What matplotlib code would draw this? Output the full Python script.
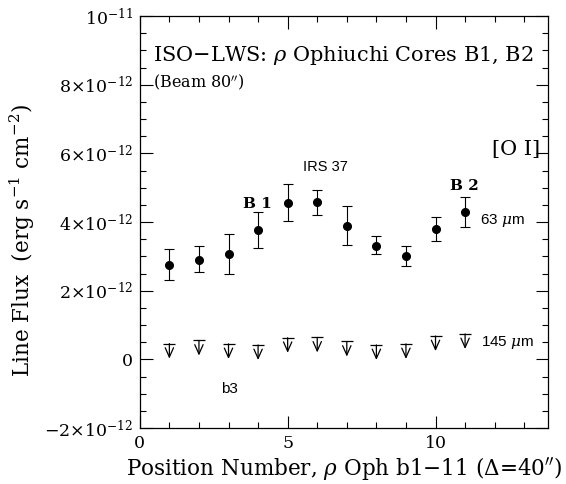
import numpy as np
import matplotlib
matplotlib.use('Agg')
import matplotlib.pyplot as plt
from matplotlib.ticker import MultipleLocator, FixedLocator

# [O I] 63 micron detections (units of 1e-12 erg s-1 cm-2)
pos = np.arange(1, 12)
flux63 = [2.74, 2.89, 3.06, 3.76, 4.56, 4.57, 3.88, 3.31, 3.02, 3.80, 4.28]
err63_hi = [0.46, 0.40, 0.58, 0.53, 0.54, 0.37, 0.59, 0.27, 0.28, 0.34, 0.46]
err63_lo = [0.44, 0.35, 0.56, 0.52, 0.53, 0.37, 0.56, 0.25, 0.29, 0.35, 0.43]

# [O I] 145 micron upper limits
lim145 = [0.46, 0.55, 0.45, 0.42, 0.63, 0.64, 0.52, 0.42, 0.45, 0.68, 0.74]
arrow_len = 0.44

ytick_vals = [-2, 0, 2, 4, 6, 8, 10]
ytick_labels = [r'$-2{\times}10^{-12}$', '0', r'$2{\times}10^{-12}$', r'$4{\times}10^{-12}$',
                r'$6{\times}10^{-12}$', r'$8{\times}10^{-12}$', r'$10^{-11}$']

plt.rcParams['mathtext.fontset'] = 'dejavuserif'
plt.rcParams['font.family'] = 'DejaVu Serif'

fig = plt.figure(figsize=(5.66, 4.84), dpi=100)
ax = fig.add_axes([0.247, 0.1157, 0.721, 0.8512])

ax.errorbar(pos, flux63, yerr=[err63_lo, err63_hi], fmt='o', color='black',
            ms=5.5, elinewidth=0.8, capsize=3.5, capthick=0.8)

ax.plot(pos, lim145, '_', color='black', ms=8, mew=0.9)
for x, y in zip(pos, lim145):
    ax.annotate('', xy=(x, y - arrow_len), xytext=(x, y),
                arrowprops=dict(arrowstyle='->,head_length=0.45,head_width=0.2',
                                color='black', lw=0.9,
                                shrinkA=0, shrinkB=0, mutation_scale=15))

ax.set_xlim(0, 13.8)
ax.set_ylim(-2, 10)
ax.xaxis.set_major_locator(MultipleLocator(5))
ax.xaxis.set_minor_locator(MultipleLocator(1))
ax.yaxis.set_major_locator(FixedLocator(ytick_vals))
ax.yaxis.set_minor_locator(MultipleLocator(0.5))
ax.set_yticklabels(ytick_labels)
ax.tick_params(which='both', direction='in', top=True, right=True, labelsize=12.5)
ax.tick_params(which='major', length=9, width=0.8, pad=5)
ax.tick_params(which='minor', length=4.5, width=0.8)
for s in ax.spines.values():
    s.set_linewidth(0.9)

ax.set_xlabel(r'Position Number, $\rho$ Oph b1$-$11 ($\Delta$=40$^{\prime\prime}$)', fontsize=15.5, labelpad=2)
ax.set_ylabel(r'Line Flux  (erg s$^{-1}$ cm$^{-2}$)', fontsize=15.5)
ax.yaxis.set_label_coords(-0.252, 0.456)

ax.text(0.45, 8.86, r'ISO$-$LWS: $\rho$ Ophiuchi Cores B1, B2', fontsize=15, va='center')
ax.text(0.45, 8.08, r'(Beam 80$^{\prime\prime}$)', fontsize=11.5, va='center')
ax.text(13.55, 6.1, '[O I]', fontsize=15, va='center', ha='right')
ax.text(6.28, 5.6, 'IRS 37', fontsize=10.5, ha='center', va='center', family='Liberation Sans')
ax.text(3.99, 4.52, 'B 1', fontsize=11, ha='center', va='center', fontweight='bold')
ax.text(10.98, 5.04, 'B 2', fontsize=11, ha='center', va='center', fontweight='bold')
ax.text(11.49, 4.05, r'63 $\mu$m', fontsize=11, va='center', family='Liberation Sans')
ax.text(11.55, 0.5, r'145 $\mu$m', fontsize=11, va='center', family='Liberation Sans')
ax.text(3.04, -0.87, 'b3', fontsize=11, ha='center', va='center', family='Liberation Sans')

fig.savefig('out.png', dpi=100)
